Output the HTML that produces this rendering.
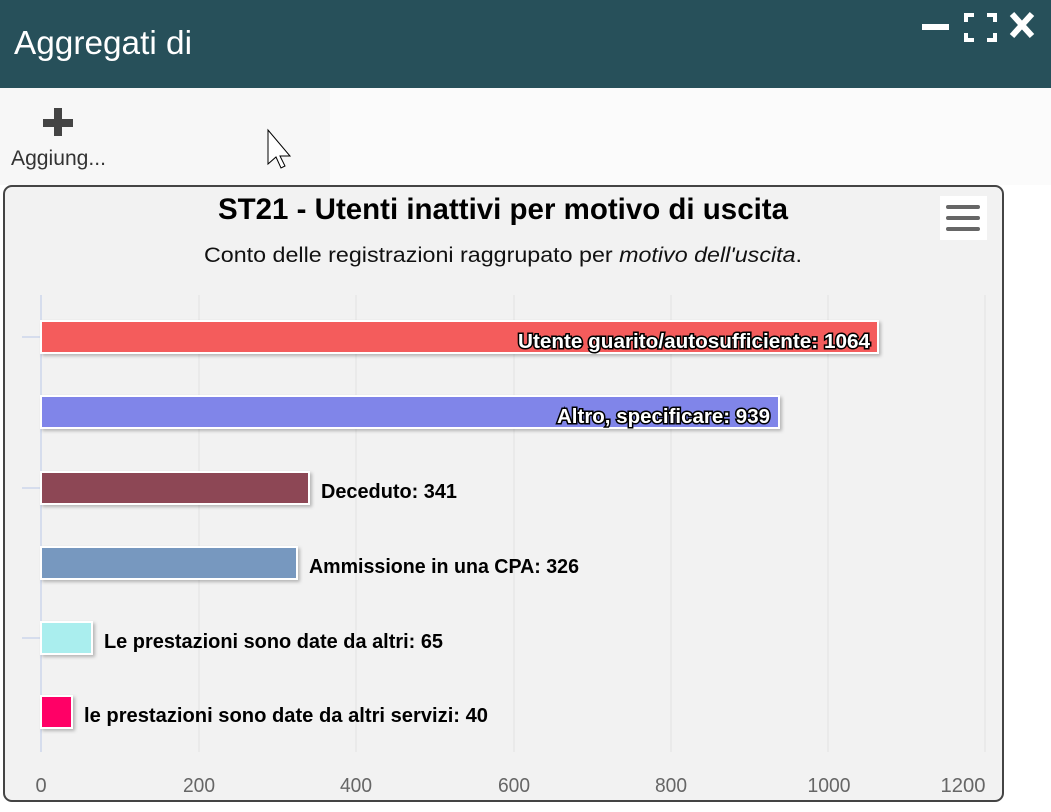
<!DOCTYPE html>
<html><head><meta charset="utf-8"><style>
body{margin:0;width:1051px;height:807px;background:#fff;overflow:hidden;font-family:"Liberation Sans",sans-serif}
</style></head><body>
<svg width="1051" height="807" xmlns="http://www.w3.org/2000/svg" font-family="Liberation Sans, sans-serif">
<defs>
<filter id="sh" x="-10%" y="-20%" width="120%" height="160%"><feDropShadow dx="2" dy="2" stdDeviation="1.5" flood-color="#000" flood-opacity="0.25"/></filter>
</defs>
<rect x="0" y="0" width="1051" height="88" fill="#27505a"/>
<text x="14" y="54" font-size="33" fill="#fff" textLength="178" lengthAdjust="spacingAndGlyphs">Aggregati di</text>
<rect x="922" y="24" width="27" height="6" fill="#fff"/>
<path d="M966 22v-7h8M987 15h8v7M995 33v7h-8M974 40h-8v-7" stroke="#fff" stroke-width="4" fill="none"/>
<path d="M1012 14L1032 36M1032 14L1012 36" stroke="#fff" stroke-width="6"/>
<rect x="0" y="88" width="1051" height="97" fill="#f7f7f7"/>
<rect x="330" y="88" width="721" height="97" fill="#fbfbfb"/>
<rect x="43" y="119" width="30" height="8" fill="#444"/>
<rect x="54" y="108" width="8" height="28" fill="#444"/>
<text x="11" y="165" font-size="21" fill="#333" textLength="95" lengthAdjust="spacingAndGlyphs">Aggiung...</text>
<path d="M268 130v34l8-7 5 11 4-2-5-10h10z" fill="#fff" stroke="#000" stroke-width="1"/>
<rect x="4" y="186" width="999" height="615" rx="8" fill="#f2f2f2" stroke="#444" stroke-width="2"/>
<text x="503" y="219" font-size="30" font-weight="bold" text-anchor="middle" fill="#000" textLength="570" lengthAdjust="spacingAndGlyphs">ST21 - Utenti inattivi per motivo di uscita</text>
<text x="503" y="262" font-size="21" text-anchor="middle" fill="#111" textLength="598" lengthAdjust="spacingAndGlyphs">Conto delle registrazioni raggrupato per <tspan font-style="italic">motivo dell'uscita</tspan>.</text>
<rect x="940" y="196" width="47" height="44" fill="#fff"/>
<g stroke="#666" stroke-width="4" stroke-linecap="round"><path d="M948 207h30M948 218h30M948 229h30"/></g>
<g stroke="#e2e2e2" stroke-width="1">
<path d="M199 295V752M356 295V752M514 295V752M671 295V752M828 295V752M985 295V752"/>
</g>
<path d="M41 295V752" stroke="#ccd6eb" stroke-width="1.5"/>
<g stroke="#ccd6eb" stroke-width="1.5"><path d="M22 337H41M22 488H41M22 638H41"/></g>
<g stroke="#fff" stroke-width="2" filter="url(#sh)">
<rect x="41" y="321" width="837" height="32" fill="#f45b5b"/>
<rect x="41" y="396" width="738" height="32" fill="#8085e9"/>
<rect x="41" y="472" width="268" height="32" fill="#8d4654"/>
<rect x="41" y="547" width="256" height="32" fill="#7798bf"/>
<rect x="41" y="622" width="51" height="32" fill="#aaeeee"/>
<rect x="41" y="696" width="31" height="32" fill="#ff0066"/>
</g>
<g font-size="20" font-weight="bold" lengthAdjust="spacingAndGlyphs">
<text x="870" y="348" text-anchor="end" fill="#fff" stroke="#000" stroke-width="3" paint-order="stroke" textLength="352" lengthAdjust="spacingAndGlyphs">Utente guarito/autosufficiente: 1064</text>
<text x="770" y="423" text-anchor="end" fill="#fff" stroke="#000" stroke-width="3" paint-order="stroke" textLength="213" lengthAdjust="spacingAndGlyphs">Altro, specificare: 939</text>
<text x="321" y="498" fill="#000" textLength="136" lengthAdjust="spacingAndGlyphs">Deceduto: 341</text>
<text x="309" y="573" fill="#000" textLength="270" lengthAdjust="spacingAndGlyphs">Ammissione in una CPA: 326</text>
<text x="104" y="648" fill="#000" textLength="339" lengthAdjust="spacingAndGlyphs">Le prestazioni sono date da altri: 65</text>
<text x="84" y="722" fill="#000" textLength="404" lengthAdjust="spacingAndGlyphs">le prestazioni sono date da altri servizi: 40</text>
</g>
<g font-size="20" fill="#666" text-anchor="middle">
<text x="41" y="792">0</text><text x="199" y="792" textLength="32" lengthAdjust="spacingAndGlyphs">200</text><text x="356" y="792" textLength="32" lengthAdjust="spacingAndGlyphs">400</text><text x="514" y="792" textLength="32" lengthAdjust="spacingAndGlyphs">600</text><text x="671" y="792" textLength="32" lengthAdjust="spacingAndGlyphs">800</text><text x="829" y="792" textLength="43" lengthAdjust="spacingAndGlyphs">1000</text><text x="963" y="792" textLength="45" lengthAdjust="spacingAndGlyphs">1200</text>
</g>
</svg>
</body></html>
